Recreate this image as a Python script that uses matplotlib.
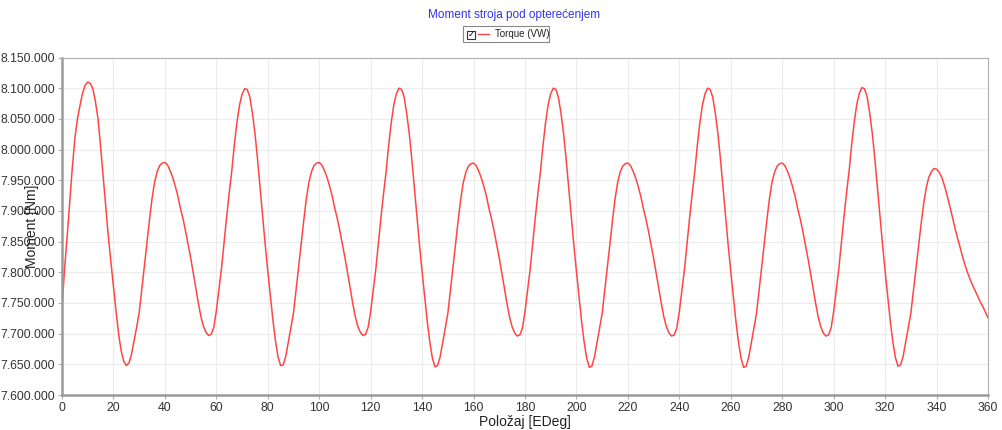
import matplotlib
matplotlib.use("Agg")
import matplotlib.pyplot as plt
from matplotlib.patches import Rectangle
from matplotlib.lines import Line2D
from matplotlib.ticker import FuncFormatter
import numpy as np

plt.rcParams['font.family'] = ['Liberation Sans', 'DejaVu Sans']

title = "Moment stroja pod opterećenjem"
series_name = "Torque (VW)"
x_label = "Položaj [EDeg]"
y_label = "Moment [Nm]"

# position in electrical degrees, one sample per degree
angle_deg = np.arange(0, 361)

# torque in thousands of Nm
torque_k = [
    # 0 - 59
    7742, 7806, 7858, 7915, 7970, 8018, 8050, 8072, 8092, 8105,
    8110, 8108, 8099, 8078, 8050, 8005, 7956, 7905, 7859, 7817,
    7777, 7737, 7700, 7672, 7655, 7648, 7652, 7666, 7688, 7710,
    7734, 7771, 7809, 7847, 7885, 7920, 7947, 7964, 7974, 7978,
    7979, 7975, 7966, 7955, 7941, 7925, 7905, 7888, 7868, 7846,
    7824, 7800, 7775, 7750, 7728, 7712, 7702, 7697, 7699, 7710,
    # 60 - 119
    7737, 7772, 7806, 7848, 7890, 7929, 7965, 8008, 8044, 8072,
    8090, 8099, 8098, 8086, 8060, 8027, 7985, 7938, 7890, 7845,
    7802, 7762, 7722, 7688, 7662, 7648, 7649, 7663, 7686, 7710,
    7734, 7771, 7809, 7847, 7885, 7920, 7947, 7964, 7974, 7978,
    7979, 7975, 7966, 7955, 7941, 7925, 7905, 7888, 7868, 7846,
    7824, 7800, 7775, 7750, 7728, 7712, 7702, 7697, 7699, 7710,
    # 120 - 179
    7736, 7771, 7805, 7847, 7889, 7928, 7964, 8007, 8044, 8073,
    8091, 8100, 8098, 8086, 8059, 8026, 7984, 7937, 7889, 7844,
    7801, 7760, 7720, 7686, 7660, 7646, 7648, 7662, 7685, 7709,
    7733, 7770, 7808, 7846, 7884, 7919, 7946, 7963, 7973, 7977,
    7978, 7974, 7965, 7954, 7940, 7924, 7904, 7887, 7867, 7845,
    7823, 7799, 7774, 7749, 7727, 7711, 7701, 7696, 7698, 7709,
    # 180 - 239
    7736, 7771, 7805, 7847, 7889, 7928, 7964, 8007, 8044, 8073,
    8091, 8100, 8098, 8085, 8059, 8026, 7984, 7937, 7889, 7844,
    7801, 7760, 7720, 7686, 7660, 7645, 7647, 7662, 7685, 7709,
    7733, 7770, 7808, 7846, 7884, 7919, 7946, 7963, 7973, 7977,
    7978, 7974, 7965, 7954, 7940, 7924, 7904, 7887, 7867, 7845,
    7823, 7799, 7774, 7749, 7727, 7711, 7701, 7696, 7698, 7709,
    # 240 - 299
    7736, 7771, 7805, 7847, 7889, 7928, 7964, 8007, 8044, 8073,
    8091, 8100, 8098, 8085, 8059, 8026, 7984, 7937, 7889, 7844,
    7801, 7760, 7720, 7686, 7660, 7645, 7647, 7662, 7685, 7709,
    7733, 7770, 7808, 7846, 7884, 7919, 7946, 7963, 7973, 7977,
    7978, 7974, 7965, 7954, 7940, 7924, 7904, 7887, 7867, 7845,
    7823, 7799, 7774, 7749, 7727, 7711, 7701, 7696, 7698, 7709,
    # 300 - 360
    7736, 7771, 7806, 7848, 7890, 7929, 7965, 8008, 8045, 8074,
    8092, 8101, 8099, 8086, 8060, 8027, 7985, 7938, 7890, 7845,
    7802, 7761, 7721, 7687, 7661, 7647, 7649, 7663, 7686, 7709,
    7733, 7769, 7806, 7843, 7879, 7912, 7938, 7955, 7964, 7969,
    7968, 7963, 7955, 7942, 7927, 7910, 7893, 7875, 7858, 7843,
    7827, 7813, 7800, 7789, 7779, 7770, 7761, 7752, 7744, 7735,
    7726,
]
torque = np.array(torque_k) * 1000.0

x_ticks = list(range(0, 361, 20))
y_ticks = list(range(7600000, 8150001, 50000))

fig = plt.figure(figsize=(10.03, 4.30), dpi=100)
ax = fig.add_axes([62 / 1003, 1 - 395 / 430, 926 / 1003, (395 - 57.5) / 430])

ax.plot(angle_deg, torque, color='#ff4545', linewidth=1.1)

ax.set_xlim(0, 360)
ax.set_ylim(7600000, 8150000)
ax.set_xticks(x_ticks)
ax.set_yticks(y_ticks)
ax.yaxis.set_major_formatter(FuncFormatter(lambda v, p: f"{v:,.0f}".replace(",", ".")))
ax.grid(True, color='#ececec', linewidth=0.8)
ax.set_axisbelow(True)

for side in ['top', 'right']:
    ax.spines[side].set_color('#b0b0b0')
    ax.spines[side].set_linewidth(0.8)
for side in ['left', 'bottom']:
    ax.spines[side].set_color('#9a9a9a')
    ax.spines[side].set_linewidth(1.8)

ax.tick_params(axis='both', length=3, color='#b0b0b0', labelsize=8.8, labelcolor='#333333', pad=2)

ax.set_xlabel(x_label, fontsize=10, color='#222222', labelpad=1)
ax.set_ylabel(y_label, fontsize=10, color='#222222')
# the reference draws the axis title over the tick labels
ax.yaxis.set_label_coords(-0.025, 0.5)

fig.text(514 / 1003, 1 - 15 / 430, title, ha='center', va='center', color='#3333ee', fontsize=8.5)

# legend box with checkbox
fig.patches.append(Rectangle((463 / 1003, 1 - 42 / 430), 86 / 1003, 16 / 430,
                             transform=fig.transFigure, facecolor='white',
                             edgecolor='#888888', linewidth=0.8))
fig.patches.append(Rectangle((467 / 1003, 1 - 38.5 / 430), 8 / 1003, 8 / 430,
                             transform=fig.transFigure, facecolor='white',
                             edgecolor='#333333', linewidth=0.8))
fig.text(471 / 1003, 1 - 34.5 / 430, "✓", ha='center', va='center', fontsize=6,
         color='black', family=['DejaVu Sans'], fontweight='bold')
fig.lines.append(Line2D([478 / 1003, 489 / 1003], [1 - 34 / 430, 1 - 34 / 430],
                        transform=fig.transFigure, color='#ff4545', linewidth=1))
fig.text(495 / 1003, 1 - 34 / 430, series_name, ha='left', va='center', fontsize=7, color='#222222')

fig.savefig("out.png", dpi=100)
